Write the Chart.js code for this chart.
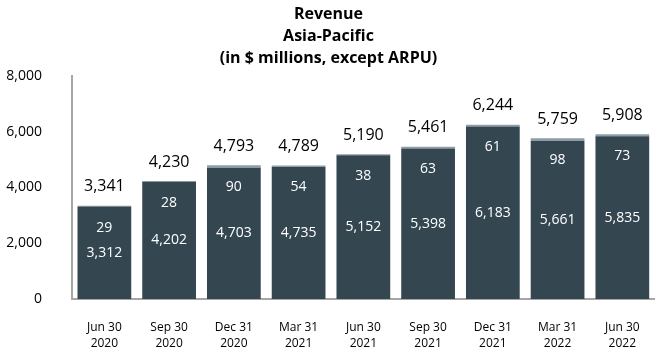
<!DOCTYPE html>
<html>
<head>
<meta charset="utf-8">
<script src="https://cdn.jsdelivr.net/npm/chart.js@4.4.0/dist/chart.umd.min.js"></script>
<style>
  html, body { margin: 0; padding: 0; background: #fff; }
  #wrap { width: 660px; height: 352px; }
</style>
</head>
<body>
<div id="wrap"><canvas id="revChart" width="660" height="352"></canvas></div>
<script>
const categories = [
  ["Jun 30", "2020"], ["Sep 30", "2020"], ["Dec 31", "2020"],
  ["Mar 31", "2021"], ["Jun 30", "2021"], ["Sep 30", "2021"],
  ["Dec 31", "2021"], ["Mar 31", "2022"], ["Jun 30", "2022"]
];
const serviceRevenue = [3312, 4202, 4703, 4735, 5152, 5398, 6183, 5661, 5835];
const otherRevenue = [29, 28, 90, 54, 38, 63, 61, 98, 73];
const totalRevenue = [3341, 4230, 4793, 4789, 5190, 5461, 6244, 5759, 5908];
const yTicks = [0, 2000, 4000, 6000, 8000];

const fmt = v => v.toLocaleString("en-US");

// draw the value labels on and above each bar
const barLabels = {
  id: "barLabels",
  afterDatasetsDraw(chart) {
    const ctx = chart.ctx;
    const dark = chart.getDatasetMeta(0).data;
    const cap = chart.getDatasetMeta(1).data;
    ctx.save();
    ctx.textAlign = "center";
    ctx.textBaseline = "middle";
    for (let i = 0; i < dark.length; i++) {
      const x = dark[i].x;
      const top = cap[i].y;
      ctx.fillStyle = "#000";
      ctx.font = "16px 'Open Sans'";
      ctx.fillText(fmt(totalRevenue[i]), x, top - 19);
      ctx.fillStyle = "#fff";
      ctx.font = "14px 'Open Sans'";
      ctx.fillText(fmt(otherRevenue[i]), x, top + 22);
      ctx.fillText(fmt(serviceRevenue[i]), x, (dark[i].y + dark[i].base) / 2);
    }
    ctx.restore();
  }
};

new Chart(document.getElementById("revChart"), {
  type: "bar",
  data: {
    labels: categories,
    datasets: [
      {
        data: serviceRevenue,
        backgroundColor: "#344751",
        barPercentage: 0.83,
        categoryPercentage: 1
      },
      {
        data: otherRevenue,
        backgroundColor: "#8e9ea8",
        barPercentage: 0.83,
        categoryPercentage: 1
      }
    ]
  },
  options: {
    responsive: false,
    animation: false,
    layout: { padding: { right: 5, left: 2 } },
    plugins: {
      legend: { display: false },
      tooltip: { enabled: false },
      title: {
        display: true,
        text: ["Revenue", "Asia-Pacific", "(in $ millions, except ARPU)"],
        color: "#000",
        font: { family: "'Open Sans'", size: 16, weight: "bold", lineHeight: 1.35 },
        padding: { top: 4, bottom: 7 }
      }
    },
    scales: {
      x: {
        stacked: true,
        grid: { display: false, drawTicks: false },
        border: { display: true, color: "#a6a6a6", width: 2 },
        ticks: {
          color: "#000",
          padding: 20,
          font: { family: "'Open Sans'", size: 12, lineHeight: 1.35 },
          maxRotation: 0,
          autoSkip: false
        },
        afterFit: axis => { axis.height = 53; }
      },
      y: {
        stacked: true,
        min: 0,
        max: 8000,
        afterBuildTicks: axis => { axis.ticks = yTicks.map(v => ({ value: v })); },
        grid: { display: false, drawTicks: false },
        border: { display: true, color: "#a6a6a6", width: 2 },
        ticks: {
          color: "#000",
          padding: 30,
          font: { family: "'Open Sans'", size: 14 },
          callback: v => fmt(v)
        },
        afterFit: axis => { axis.width = 70; }
      }
    }
  },
  plugins: [barLabels]
});
</script>
</body>
</html>
